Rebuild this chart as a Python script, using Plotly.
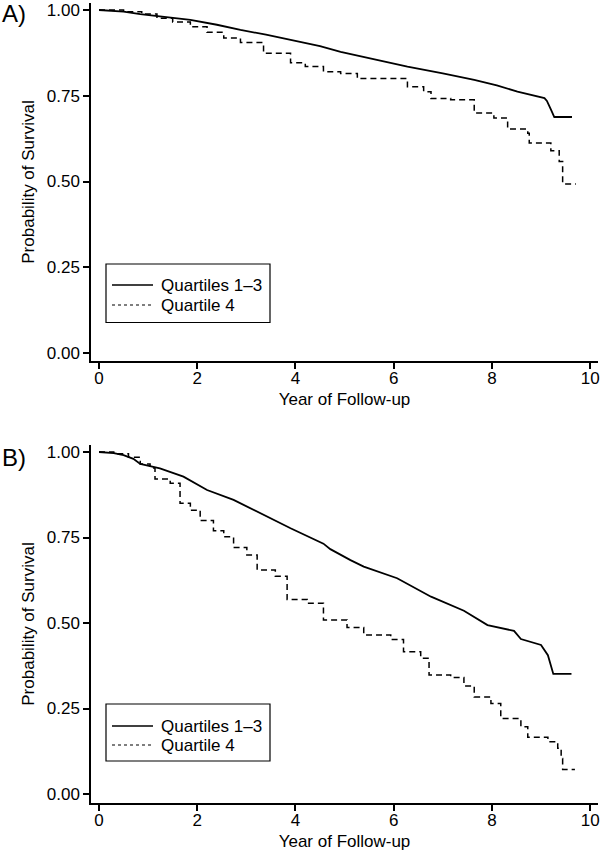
import plotly.graph_objects as go

# Panel A: Quartiles 1-3 (solid)
a_q13_t = [0, 0.5, 0.84, 1.3, 1.86, 2.4, 2.88, 3.4, 3.9, 4.5, 4.92, 5.5, 6.28, 7.0, 7.64, 8.1, 8.52, 9.07, 9.12, 9.2, 9.27, 9.63]
a_q13_s = [1.0, 0.995, 0.988, 0.98, 0.971, 0.957, 0.942, 0.928, 0.913, 0.895, 0.878, 0.86, 0.835, 0.815, 0.796, 0.78, 0.762, 0.743, 0.735, 0.71, 0.688, 0.688]
# Panel A: Quartile 4 (dashed)
a_q4_t = [0, 0.5, 0.87, 1.18, 1.5, 1.86, 2.2, 2.54, 2.88, 3.35, 3.9, 4.2, 4.57, 4.92, 5.26, 5.78, 6.28, 6.61, 6.76, 7.16, 7.64, 8.04, 8.32, 8.73, 8.76, 9.16, 9.2, 9.37, 9.44, 9.71]
a_q4_s = [1.0, 0.995, 0.988, 0.976, 0.965, 0.951, 0.935, 0.918, 0.905, 0.874, 0.846, 0.835, 0.82, 0.815, 0.80, 0.80, 0.776, 0.762, 0.742, 0.738, 0.70, 0.685, 0.653, 0.641, 0.612, 0.612, 0.59, 0.558, 0.493, 0.493]

# Panel B: Quartiles 1-3 (solid)
b_q13_t = [0, 0.3, 0.5, 0.7, 0.84, 1.24, 1.72, 2.2, 2.74, 3.22, 3.9, 4.57, 4.71, 5.12, 5.39, 6.07, 6.76, 7.43, 7.91, 8.45, 8.59, 9.0, 9.14, 9.25, 9.62]
b_q13_s = [1.0, 0.997, 0.991, 0.98, 0.965, 0.952, 0.928, 0.889, 0.86, 0.825, 0.777, 0.732, 0.716, 0.684, 0.665, 0.631, 0.577, 0.536, 0.494, 0.477, 0.453, 0.436, 0.406, 0.351, 0.351]
# Panel B: Quartile 4 (dashed)
b_q4_t = [0, 0.3, 0.6, 0.84, 1.04, 1.14, 1.45, 1.65, 1.86, 2.06, 2.33, 2.54, 2.74, 3.01, 3.22, 3.59, 3.83, 4.24, 4.57, 5.05, 5.39, 5.94, 6.2, 6.55, 6.72, 7.16, 7.43, 7.64, 7.98, 8.18, 8.59, 8.73, 9.14, 9.34, 9.41, 9.44, 9.69]
b_q4_s = [1.0, 0.995, 0.985, 0.965, 0.953, 0.921, 0.909, 0.85, 0.83, 0.80, 0.77, 0.752, 0.721, 0.699, 0.655, 0.637, 0.569, 0.558, 0.509, 0.487, 0.465, 0.452, 0.416, 0.397, 0.348, 0.341, 0.316, 0.284, 0.265, 0.221, 0.197, 0.166, 0.153, 0.134, 0.104, 0.072, 0.072]

series_names = ["Quartiles 1\u20133", "Quartile 4"]
panel_labels = ["A)", "B)"]
x_ticks = [0, 2, 4, 6, 8, 10]
y_ticks = [0, 0.25, 0.5, 0.75, 1.0]
y_tick_labels = ["0.00", "0.25", "0.50", "0.75", "1.00"]

FONT = "Liberation Sans, Arial, sans-serif"
W, H = 601, 853
FS = 17

fig = go.Figure()

solid = dict(color="black", width=1.8)
dashed = dict(color="black", width=1.5, dash="6px,4px")

fig.add_trace(go.Scatter(x=a_q13_t, y=a_q13_s, mode="lines", line=solid, showlegend=False, xaxis="x", yaxis="y"))
fig.add_trace(go.Scatter(x=a_q4_t, y=a_q4_s, mode="lines", line=dashed, line_shape="hv", showlegend=False, xaxis="x", yaxis="y"))
fig.add_trace(go.Scatter(x=b_q13_t, y=b_q13_s, mode="lines", line=solid, showlegend=False, xaxis="x2", yaxis="y2"))
fig.add_trace(go.Scatter(x=b_q4_t, y=b_q4_s, mode="lines", line=dashed, line_shape="hv", showlegend=False, xaxis="x2", yaxis="y2"))


def px_y(p):
    return 1 - p / H


def px_x(p):
    return p / W


# manual legends (box, line samples, labels)
shapes = []
annotations = []
for (top, bot, y1, y2) in [(264, 322.5, 285, 305), (704, 761, 726, 745)]:
    shapes.append(dict(type="rect", xref="paper", yref="paper", x0=px_x(106), x1=px_x(270),
                       y0=px_y(bot), y1=px_y(top), line=dict(color="black", width=1.2), fillcolor="white"))
    shapes.append(dict(type="line", xref="paper", yref="paper", x0=px_x(112), x1=px_x(153),
                       y0=px_y(y1), y1=px_y(y1), line=dict(color="black", width=1.5)))
    shapes.append(dict(type="line", xref="paper", yref="paper", x0=px_x(112), x1=px_x(153),
                       y0=px_y(y2), y1=px_y(y2), line=dict(color="black", width=1.2, dash="dot")))
    for yy, name in [(y1, series_names[0]), (y2, series_names[1])]:
        annotations.append(dict(text=name, x=px_x(159), y=px_y(yy), xref="paper", yref="paper",
                                xanchor="left", yanchor="middle", showarrow=False,
                                font=dict(family=FONT, size=FS, color="black")))

for lab, yy in zip(panel_labels, [14, 457]):
    annotations.append(dict(text=lab, x=0, y=px_y(yy), xref="paper", yref="paper", xanchor="left",
                            yanchor="middle", showarrow=False, font=dict(family=FONT, size=24, color="black")))

xdom = [91 / W, 598 / W]
axis_common = dict(showline=True, linecolor="black", linewidth=1.5, ticks="outside", ticklen=6,
                   tickwidth=1.5, tickcolor="black", showgrid=False, zeroline=False, automargin=False,
                   tickfont=dict(family=FONT, size=FS, color="black"),
                   title_font=dict(family=FONT, size=FS, color="black"))

xr = [-0.163, 10.16]
fig.update_layout(
    width=W, height=H,
    showlegend=False,
    margin=dict(l=0, r=0, t=0, b=0, autoexpand=False),
    paper_bgcolor="white", plot_bgcolor="white",
    font=dict(family=FONT, size=FS, color="black"),
    xaxis=dict(domain=xdom, range=xr, tickvals=x_ticks, anchor="y", ticklabelstandoff=-5,
               title=dict(text="Year of Follow-up", standoff=6), **axis_common),
    yaxis=dict(domain=[px_y(361), px_y(3)], range=[-0.0233, 1.0204], tickvals=y_ticks, ticktext=y_tick_labels,
               anchor="x", title=dict(text="Probability of Survival", standoff=8), **axis_common),
    xaxis2=dict(domain=xdom, range=xr, tickvals=x_ticks, anchor="y2", ticklabelstandoff=-5,
                title=dict(text="Year of Follow-up", standoff=6), **axis_common),
    yaxis2=dict(domain=[px_y(803), px_y(445)], range=[-0.0263, 1.0205], tickvals=y_ticks, ticktext=y_tick_labels,
                anchor="x2", title=dict(text="Probability of Survival", standoff=8), **axis_common),
    shapes=shapes,
    annotations=annotations,
)

fig.write_html("out.html", config={"displayModeBar": False},
               post_script="document.body.style.margin='0';document.body.style.overflow='hidden';")
